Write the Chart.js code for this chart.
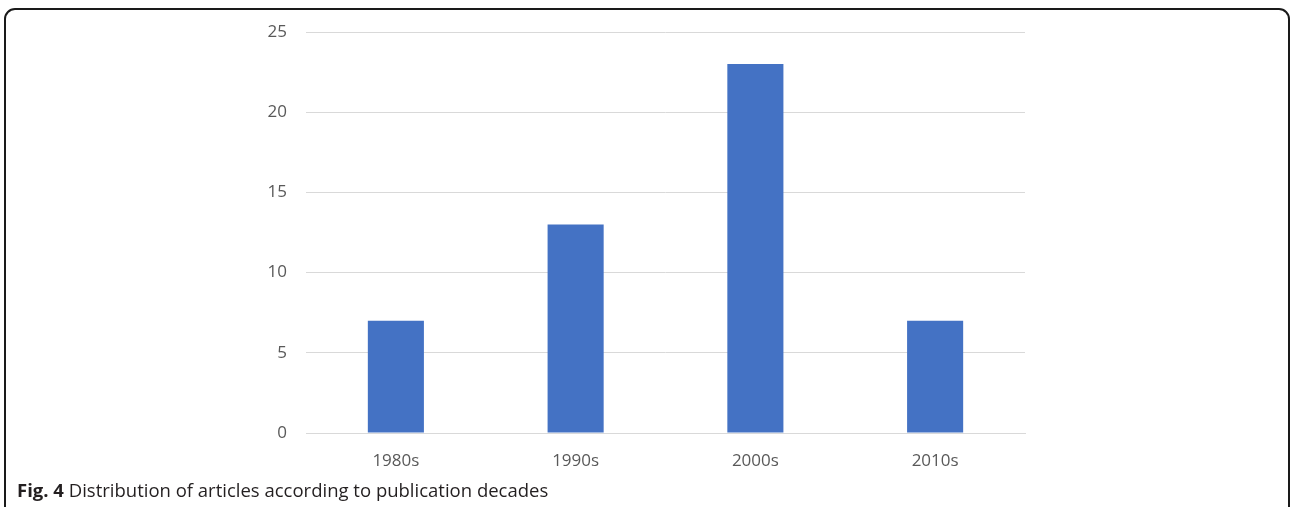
<!DOCTYPE html>
<html>
<head>
<meta charset="utf-8">
<script src="https://cdn.jsdelivr.net/npm/chart.js@4/dist/chart.umd.min.js"></script>
<style>
  html, body { margin: 0; padding: 0; background: #fff; overflow: hidden; }
  #wrap { position: relative; width: 1290px; height: 507px; }
  #frame {
    position: absolute; left: 4px; top: 8px; width: 1286px; height: 520px;
    border: 2px solid #1a1a1a; border-radius: 11px; box-sizing: border-box;
  }
  #chart-1 { position: absolute; left: 0; top: 0; }
  #caption {
    position: absolute; left: 17px; top: 481px; font-family: "Open Sans", sans-serif;
    font-size: 18.5px; line-height: 1; color: #231f20; white-space: nowrap;
  }
</style>
</head>
<body>
<div id="wrap">
  <div id="frame"></div>
  <canvas id="chart-1" width="1290" height="507"></canvas>
  <div id="caption"><b>Fig. 4</b> Distribution of articles according to publication decades</div>
</div>
<script>
var decades = ["1980s", "1990s", "2000s", "2010s"];
var articleCounts = [7, 13, 23, 7];
var yTicks = [0, 5, 10, 15, 20, 25];

var chartOne = document.getElementById("chart-1").getContext("2d");
var myBarChart = new Chart(chartOne, {
  type: "bar",
  data: {
    labels: decades,
    datasets: [
      {
        label: "Articles",
        data: articleCounts,
        backgroundColor: "#4472c4",
        borderWidth: 0,
        categoryPercentage: 1,
        barPercentage: 0.312,
      },
    ],
  },
  options: {
    responsive: false,
    animation: false,
    layout: {
      padding: { left: 256, right: 265, top: 32, bottom: 34 },
    },
    plugins: {
      legend: { display: false },
      tooltip: { enabled: false },
    },
    scales: {
      x: {
        grid: { display: false },
        border: { color: "#d9d9d9", width: 1 },
        ticks: {
          color: "#595959",
          padding: 10,
          font: { family: "Open Sans", size: 17 },
        },
        afterFit: function (s) { s.height = 40; },
      },
      y: {
        min: 0,
        max: 25,
        afterBuildTicks: function (s) {
          s.ticks = yTicks.map(function (v) { return { value: v }; });
        },
        grid: { color: "#d9d9d9", drawTicks: false, lineWidth: 1 },
        border: { display: false },
        ticks: {
          color: "#595959",
          padding: 19,
          font: { family: "Open Sans", size: 17 },
        },
        afterFit: function (s) { s.width = 50; },
      },
    },
  },
});
</script>
</body>
</html>
